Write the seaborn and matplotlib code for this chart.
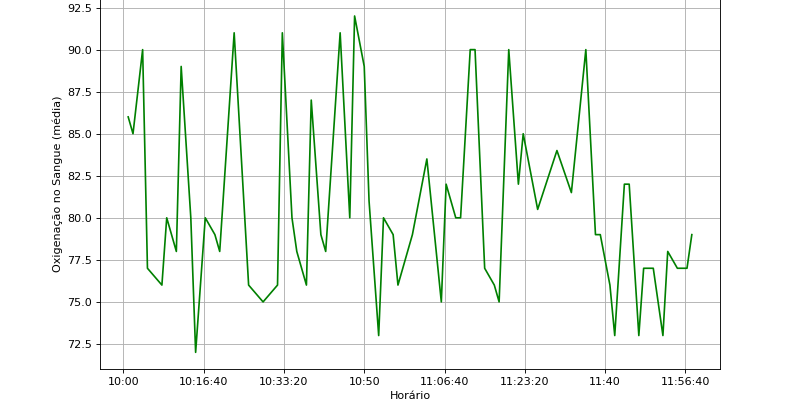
import matplotlib
matplotlib.use("Agg")
import matplotlib.pyplot as plt
import matplotlib.ticker as mticker
import pandas as pd
import seaborn as sns

# Time of each reading (HH:MM) and blood oxygen average
horarios = [
    "10:01", "10:02", "10:04", "10:05", "10:08", "10:09", "10:11", "10:12",
    "10:14", "10:15", "10:17", "10:19", "10:20", "10:23", "10:26", "10:29",
    "10:32", "10:33", "10:35", "10:36", "10:38", "10:39", "10:41", "10:42",
    "10:45", "10:47", "10:48", "10:50", "10:51", "10:53", "10:54", "10:56",
    "10:57", "11:00", "11:03", "11:06", "11:07", "11:09", "11:10", "11:12",
    "11:13", "11:15", "11:17", "11:18", "11:20", "11:22", "11:23", "11:26",
    "11:30", "11:33", "11:36", "11:38", "11:39", "11:41", "11:42", "11:44",
    "11:45", "11:47", "11:48", "11:50", "11:52", "11:53", "11:55", "11:57",
    "11:58",
]
oxigenacao = [
    86, 85, 90, 77, 76, 80, 78, 89,
    80, 72, 80, 79, 78, 91, 76, 75,
    76, 91, 80, 78, 76, 87, 79, 78,
    91, 80, 92, 89, 81, 73, 80, 79,
    76, 79, 83.5, 75, 82, 80, 80, 90,
    90, 77, 76, 75, 90, 82, 85, 80.5,
    84, 81.5, 90, 79, 79, 76, 73, 82,
    82, 73, 77, 77, 73, 78, 77, 77,
    79,
]


def to_seconds(hhmm):
    h, m = hhmm.split(":")
    return int(h) * 3600 + int(m) * 60


def fmt_time(x, pos=None):
    # same style as pandas' time formatter: drop seconds when zero
    s = int(round(x))
    h, rem = divmod(s, 3600)
    m, sec = divmod(rem, 60)
    if sec:
        return f"{h:02d}:{m:02d}:{sec:02d}"
    return f"{h:02d}:{m:02d}"


df = pd.DataFrame({"segundos": [to_seconds(h) for h in horarios],
                   "oxigenacao": oxigenacao})

# 10 x 5.25 in at 80 dpi -> 800 x 420 px
fig = plt.figure(figsize=(10, 5.25), dpi=80)
ax = fig.add_axes([0.125, 0.121, 0.775, 0.881])
sns.lineplot(data=df, x="segundos", y="oxigenacao", color="green", ax=ax)

ax.xaxis.set_major_locator(mticker.MultipleLocator(1000))
ax.xaxis.set_major_formatter(mticker.FuncFormatter(fmt_time))
ax.set_xlabel("Horário")
ax.set_ylabel("Oxigenação no Sangue (média)")
ax.grid(True)

fig.savefig("out.png", dpi=80)
